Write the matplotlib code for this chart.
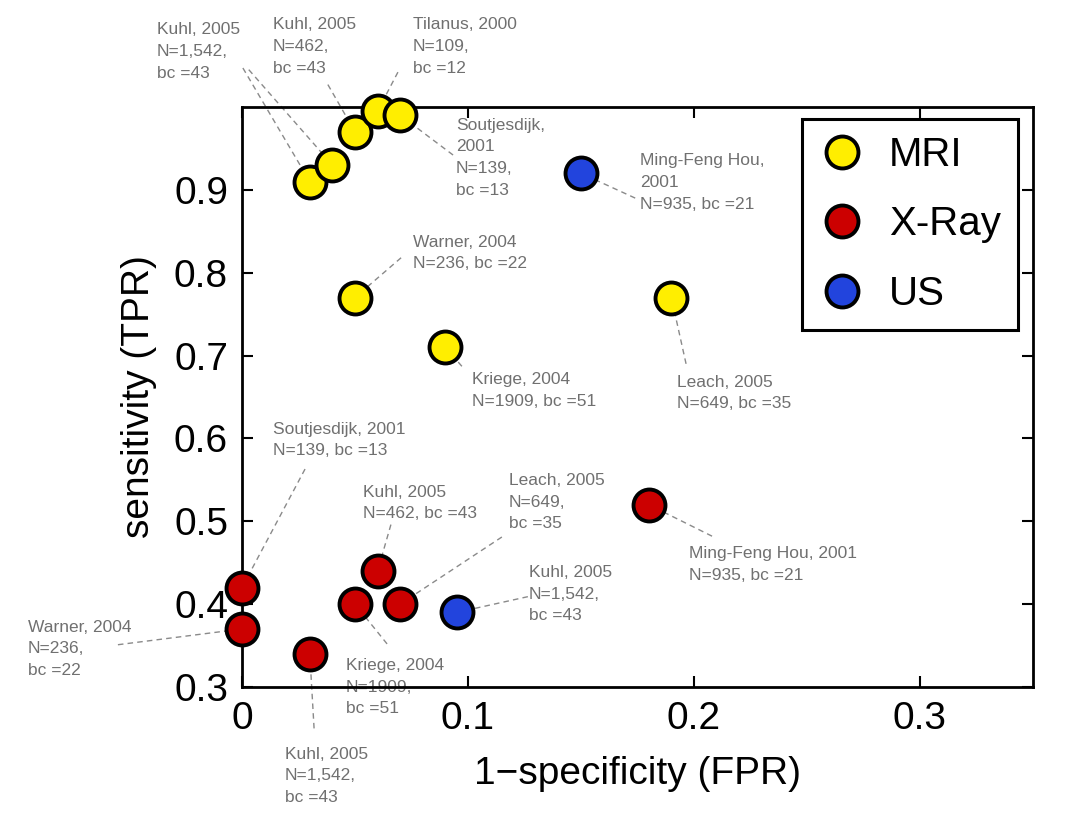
import matplotlib
matplotlib.use("Agg")
import matplotlib.pyplot as plt
from matplotlib.lines import Line2D

plt.rcParams['font.family'] = ['Liberation Sans', 'DejaVu Sans']

# data: (FPR, TPR)
mri_fpr = [0.03, 0.04, 0.05, 0.06, 0.07, 0.05, 0.09, 0.19]
mri_tpr = [0.91, 0.93, 0.97, 0.995, 0.99, 0.77, 0.71, 0.77]
xray_fpr = [0.0, 0.0, 0.03, 0.05, 0.06, 0.07, 0.18]
xray_tpr = [0.42, 0.37, 0.34, 0.40, 0.44, 0.40, 0.52]
us_fpr = [0.15, 0.095]
us_tpr = [0.92, 0.39]

mri_labels = ["Kuhl, 2005\nN=1,542,\nbc =43", "Kuhl, 2005\nN=1,542,\nbc =43",
              "Kuhl, 2005\nN=462,\nbc =43", "Tilanus, 2000\nN=109,\nbc =12",
              "Soutjesdijk,\n2001\nN=139,\nbc =13", "Warner, 2004\nN=236, bc =22",
              "Kriege, 2004\nN=1909, bc =51", "Leach, 2005\nN=649, bc =35"]
xray_labels = ["Soutjesdijk, 2001\nN=139, bc =13", "Warner, 2004\nN=236,\nbc =22",
               "Kuhl, 2005\nN=1,542,\nbc =43", "Kriege, 2004\nN=1909,\nbc =51",
               "Kuhl, 2005\nN=462, bc =43", "Leach, 2005\nN=649,\nbc =35",
               "Ming-Feng Hou, 2001\nN=935, bc =21"]
us_labels = ["Ming-Feng Hou,\n2001\nN=935, bc =21", "Kuhl, 2005\nN=1,542,\nbc =43"]

# label layout: text top-left and start of the leader line
mri_text = [(-0.0376, 1.102), None, (0.0137, 1.108), (0.0757, 1.108),
            (0.0947, 0.987), (0.0757, 0.846), (0.1018, 0.680), (0.1925, 0.677)]
mri_line = [(0.0004, 1.047), (0.003, 1.045), (0.038, 1.027), (0.069, 1.042),
            (0.0934, 0.942), (0.0704, 0.818), (0.0973, 0.687), (0.1965, 0.690)]
xray_text = [(0.0137, 0.620), (-0.0947, 0.381), (0.019, 0.228), (0.046, 0.335),
             (0.0535, 0.544), (0.118, 0.558), (0.198, 0.470)]
xray_line = [(0.0279, 0.563), (-0.0549, 0.351), (0.0319, 0.250), (0.0642, 0.352),
             (0.0659, 0.496), (0.115, 0.481), (0.208, 0.482)]
us_text = [(0.176, 0.944), (0.127, 0.447)]
us_line = [(0.174, 0.890), (0.1265, 0.409)]

fig = plt.figure(figsize=(10.91, 8.31), dpi=100)
ax = fig.add_axes([0.2218, 0.1733, 0.725, 0.698])

gray = '#707070'
groups = [
    ("MRI", mri_fpr, mri_tpr, mri_labels, mri_text, mri_line, '#ffee00'),
    ("X-Ray", xray_fpr, xray_tpr, xray_labels, xray_text, xray_line, '#cc0000'),
    ("US", us_fpr, us_tpr, us_labels, us_text, us_line, '#2244dd'),
]

handles = []
for name, xs, ys, labels, texts, lines, col in groups:
    for x, y, lab, t, l in zip(xs, ys, labels, texts, lines):
        ax.plot([l[0], x], [l[1], y], ls=(0, (4, 3)), color='#8a8a8a', lw=1.0,
                clip_on=False, zorder=1)
        if t is not None:
            ax.text(t[0], t[1], lab, color=gray, fontsize=12.5, ha='left',
                    va='top', linespacing=1.55, clip_on=False, zorder=2)
    ax.plot(xs, ys, 'o', ms=23, mfc=col, mec='black', mew=2.8,
            clip_on=False, zorder=5)
    handles.append(Line2D([], [], marker='o', ls='none', ms=23, mfc=col,
                          mec='black', mew=2.8, label=name))

ax.set_xlim(0, 0.35)
ax.set_ylim(0.3, 1.0)
ax.set_xticks([0, 0.1, 0.2, 0.3])
ax.set_xticklabels(['0', '0.1', '0.2', '0.3'])
ax.set_yticks([0.3, 0.4, 0.5, 0.6, 0.7, 0.8, 0.9])
ax.tick_params(direction='in', length=8, width=1.5, labelsize=28, pad=10,
               top=True, right=True)
for s in ax.spines.values():
    s.set_linewidth(2.0)

ax.set_xlabel("1\u2212specificity (FPR)", fontsize=28, labelpad=14)
ax.set_ylabel("sensitivity (TPR)", fontsize=28, labelpad=12)

leg = ax.legend(handles=handles, loc='upper right', bbox_to_anchor=(0.981, 0.979),
                borderaxespad=0, fontsize=29, frameon=True, fancybox=False,
                labelspacing=0.78, handletextpad=0.6, borderpad=0.42,
                handlelength=1.15, framealpha=1)
leg.get_frame().set_edgecolor('black')
leg.get_frame().set_linewidth(2.2)
leg.set_zorder(10)

fig.savefig("out.png", dpi=100)
